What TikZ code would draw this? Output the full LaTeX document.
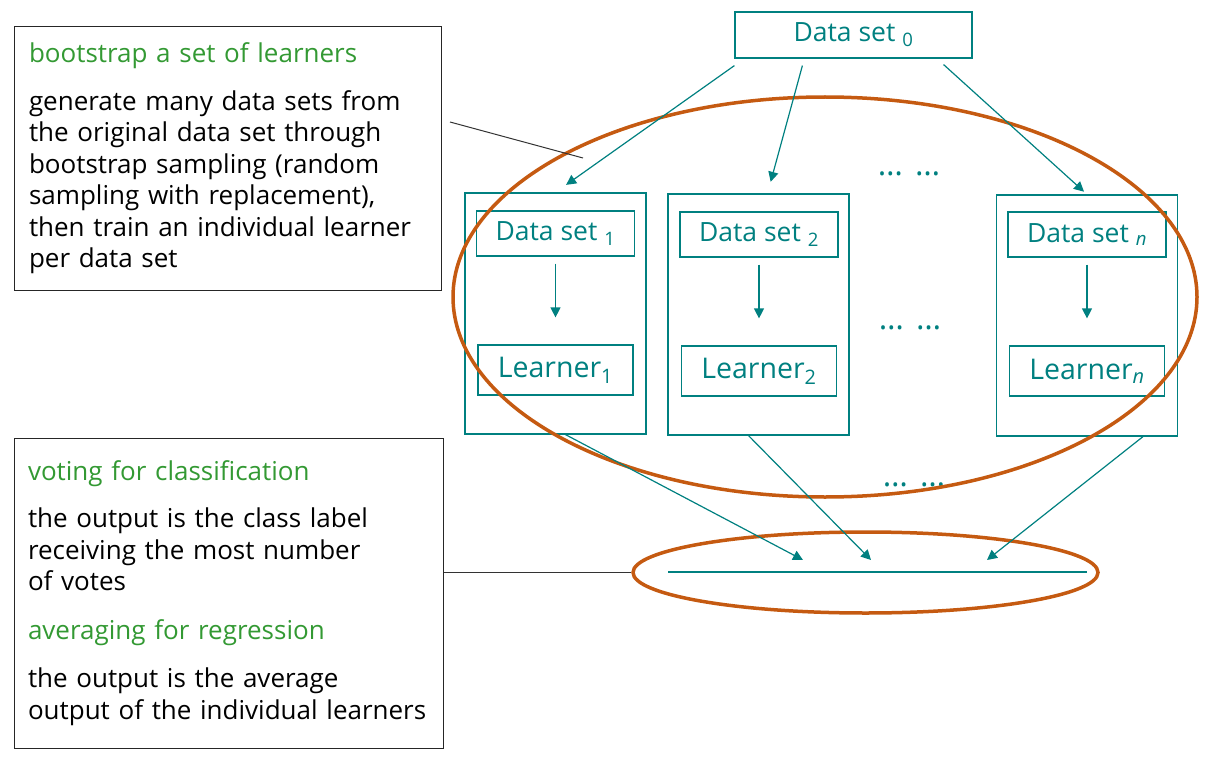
\documentclass[tikz,border=0pt]{standalone}
\usepackage{fontspec}
\setmainfont{Open Sans}
\usetikzlibrary{arrows.meta, positioning, shapes.geometric}
\definecolor{dteal}{RGB}{0,128,128}
\definecolor{rust}{RGB}{197,90,17}
\definecolor{leaf}{RGB}{51,153,51}
\tikzset{%
  >={Triangle[width=10pt,length=10pt]},
  % Specifications for style of nodes:
         base/.style = {rectangle, draw=dteal, line width=1.2pt,
                        text=dteal, inner sep=0pt},
       column/.style = {base, minimum width=181pt, minimum height=241pt},
      dataset/.style = {base, minimum width=158pt, minimum height=45pt,
                        font=\fontsize{26.5}{30}\selectfont},
      learner/.style = {base, minimum width=155pt, minimum height=50pt,
                        font=\fontsize{28.5}{32}\selectfont},
         note/.style = {rectangle, draw=black!85, line width=1pt, align=left,
                        inner xsep=14pt, inner ysep=0pt,
                        font=\fontsize{26}{31.5}\selectfont},
         dots/.style = {text=dteal, font=\fontsize{32}{34}\selectfont},
         ring/.style = {ellipse, draw=rust, line width=3.5pt, inner sep=0pt},
         flow/.style = {->, draw=dteal, line width=1.2pt},
      callout/.style = {draw=black!80, line width=1pt},
}
\begin{document}
\begin{tikzpicture}[x=1pt, y=-1pt, node distance=136.5pt]
  \useasboundingbox (0,0) rectangle (1205,765);

  \node(boot)   [note, minimum width=427pt, minimum height=263pt, text width=397pt] at (227.5,158.5)
                {\textcolor{leaf}{bootstrap a set of learners}\\[16pt]
                 generate many data sets from\\
                 the original data set through\\
                 bootstrap sampling (random\\
                 sampling with replacement),\\
                 then train an individual learner\\
                 per data set};

  \node(vote)   [note, minimum width=429pt, minimum height=310pt, text width=401pt] at (228.5,593)
                {\textcolor{leaf}{voting for classification}\\[16pt]
                 the output is the class label\\
                 receiving the most number\\
                 of votes\\[17pt]
                 \textcolor{leaf}{averaging for regression}\\[17pt]
                 the output is the average\\
                 output of the individual learners};

  \node(ds0)    [dataset, minimum width=237pt, minimum height=46pt] at (853.5,35) {Data set \textsubscript{0}};

  \node(col1)   [column] at (555.5,313.5) {};
  \node(col2)   [column] at (758.5,314.5) {};
  \node(coln)   [column] at (1087,315.5) {};

  \node(ds1)    [dataset] at (555.5,233.5) {Data set \textsubscript{1}};
  \node(ds2)    [dataset] at (759,234.5)   {Data set \textsubscript{2}};
  \node(dsn)    [dataset] at (1087,234.5)  {Data set \textsubscript{\itshape n}};

  \node(lrn1)   [learner, below of=ds1] {Learner\textsubscript{1}};
  \node(lrn2)   [learner, below of=ds2] {Learner\textsubscript{2}};
  \node(lrnn)   [learner, below of=dsn] {Learner\textsubscript{\itshape n}};

  \node(dotsA)  [dots] at (909,174) {…\hspace{12pt}…};
  \node(dotsB)  [dots] at (910,328) {…\hspace{12pt}…};
  \node(dotsC)  [dots] at (914,485) {…\hspace{12pt}…};

  \coordinate (in1) at (803,560);
  \coordinate (in2) at (871,560);
  \coordinate (in3) at (987,560);
  \coordinate (vl)  at (668,572);
  \coordinate (vr)  at (1087,572);
  \coordinate (c1)  at (450,122);
  \coordinate (c2)  at (583,158);

  % inner arrows
  \draw[flow, shorten <=7pt, shorten >=27pt] (ds1) -- (lrn1);
  \draw[flow, shorten <=7pt, shorten >=27pt] (ds2) -- (lrn2);
  \draw[flow, shorten <=7pt, shorten >=27pt] (dsn) -- (lrnn);

  % the two groupings
  \node(grp)    [ring, minimum width=744pt, minimum height=400pt] at (825,297) {};
  \node(ens)    [ring, minimum width=465pt, minimum height=81pt] at (865.5,572.5) {};

  \draw[flow, shorten >=13pt] ([shift={(0,7)}]ds0.south west) -- (col1.north);
  \draw[flow, shorten >=12pt] ([shift={(68,7)}]ds0.south west) -- ([xshift=9pt]col2.north);
  \draw[flow, shorten >=4pt]  ([shift={(-29,6)}]ds0.south east) -- (coln.north);

  \draw[flow] ([xshift=10pt]col1.south) -- (in1);
  \draw[flow] ([xshift=-10pt]col2.south) -- (in2);
  \draw[flow] ([xshift=56pt]coln.south) -- (in3);
  \draw[dteal, line width=1.2pt] (vl) -- (vr);

  \draw[callout] (c1) -- (c2);
  \draw[callout] (vote.east |- ens.west) -- (ens.west);
\end{tikzpicture}
\end{document}
